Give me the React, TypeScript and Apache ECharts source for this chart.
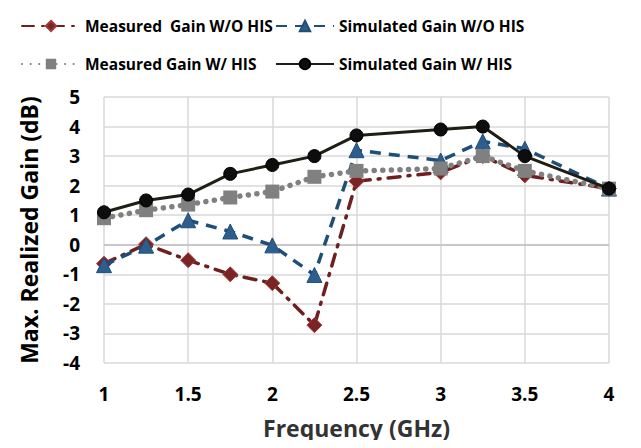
import React, { useEffect, useRef } from "react";
import * as echarts from "echarts";

const freq = [1, 1.25, 1.5, 1.75, 2, 2.25, 2.5, 3, 3.25, 3.5, 4];
const measWO = [-0.64, 0.02, -0.52, -1.0, -1.3, -2.72, 2.15, 2.45, 3.0, 2.35, 1.9];
const simWO = [-0.69, -0.03, 0.83, 0.45, -0.02, -1.02, 3.2, 2.85, 3.5, 3.25, 1.9];
const measW = [0.9, 1.17, 1.36, 1.6, 1.8, 2.3, 2.5, 2.58, 3.0, 2.5, 1.9];
const simW = [1.1, 1.5, 1.7, 2.4, 2.7, 3.0, 3.7, 3.9, 4.0, 3.0, 1.9];

const names = [
  "Measured  Gain W/O HIS",
  "Simulated Gain W/O HIS",
  "Measured Gain W/ HIS",
  "Simulated Gain W/ HIS",
];

const pair = (ys: number[]) => freq.map((x, i) => [x, ys[i]]);

export default function App() {
  const ref = useRef<HTMLDivElement>(null);
  useEffect(() => {
    const chart = echarts.init(ref.current!, undefined, { renderer: "svg" });
    const font = "Open Sans";
    const legendBase = {
      itemWidth: 58,
      itemHeight: 13,
      itemGap: 0,
      textStyle: { fontFamily: font, fontWeight: "bold", fontSize: 15.5, color: "#000" },
    };
    chart.setOption({
      animation: false,
      legend: [
        { ...legendBase, data: [names[0]], left: 16, top: 13 },
        { ...legendBase, data: [names[1]], left: 270, top: 13 },
        { ...legendBase, data: [names[2]], left: 16, top: 51 },
        { ...legendBase, data: [names[3]], left: 270, top: 51 },
      ],
      grid: { left: 104, right: 32, top: 97, bottom: 85 },
      xAxis: {
        type: "value",
        min: 1,
        max: 4,
        interval: 0.5,
        name: "Frequency (GHz)",
        nameLocation: "middle",
        nameGap: 53,
        nameTextStyle: { fontFamily: font, fontWeight: "bold", fontSize: 23, color: "#333" },
        axisLine: { show: false },
        axisTick: { show: false },
        axisLabel: { fontFamily: font, fontWeight: "bold", fontSize: 19, color: "#000", margin: 21 },
        splitLine: { show: true, lineStyle: { color: "#d9d9d9", width: 1.5 } },
      },
      yAxis: {
        type: "value",
        min: -4,
        max: 5,
        interval: 1,
        name: "Max. Realized Gain (dB)",
        nameLocation: "middle",
        nameGap: 64,
        nameTextStyle: { fontFamily: font, fontWeight: "bold", fontSize: 23, color: "#000" },
        axisLine: { show: false },
        axisTick: { show: false },
        axisLabel: { fontFamily: font, fontWeight: "bold", fontSize: 19, color: "#000", margin: 24 },
        splitLine: { show: true, lineStyle: { color: "#d9d9d9", width: 1.5 } },
      },
      series: [
        {
          name: names[0],
          type: "line",
          data: pair(measWO),
          symbol: "diamond",
          symbolSize: 15,
          itemStyle: { color: "#7b2424", borderColor: "#a33a3a", borderWidth: 1 },
          lineStyle: { color: "#6e1f1f", width: 3.5, type: [12, 8, 2, 8], cap: "round" },
          z: 2,
          markLine: {
            silent: true,
            symbol: "none",
            label: { show: false },
            lineStyle: { color: "#bfbfbf", width: 1.5, type: "solid" },
            data: [{ yAxis: 0 }],
            z: 1,
          },
        },
        {
          name: names[1],
          type: "line",
          data: pair(simWO),
          symbol: "triangle",
          symbolSize: 15,
          itemStyle: { color: "#2e5e8e", borderColor: "#1f4e79", borderWidth: 1 },
          lineStyle: { color: "#1f4e79", width: 3.5, type: [11, 8] },
          z: 3,
        },
        {
          name: names[2],
          type: "line",
          data: pair(measW),
          symbol: "rect",
          symbolSize: 14,
          itemStyle: { color: "#808080" },
          lineStyle: { color: "#808080", width: 5.5, type: [0.1, 8.5], cap: "round" },
          z: 4,
        },
        {
          name: names[3],
          type: "line",
          data: pair(simW),
          symbol: "circle",
          symbolSize: 13,
          itemStyle: { color: "#0d0d0d", borderColor: "#000", borderWidth: 1 },
          lineStyle: { color: "#1e1e14", width: 3 },
          z: 5,
        },
      ],
    });
    return () => chart.dispose();
  }, []);
  return <div ref={ref} style={{ width: 641, height: 448, margin: -8 }} />;
}
